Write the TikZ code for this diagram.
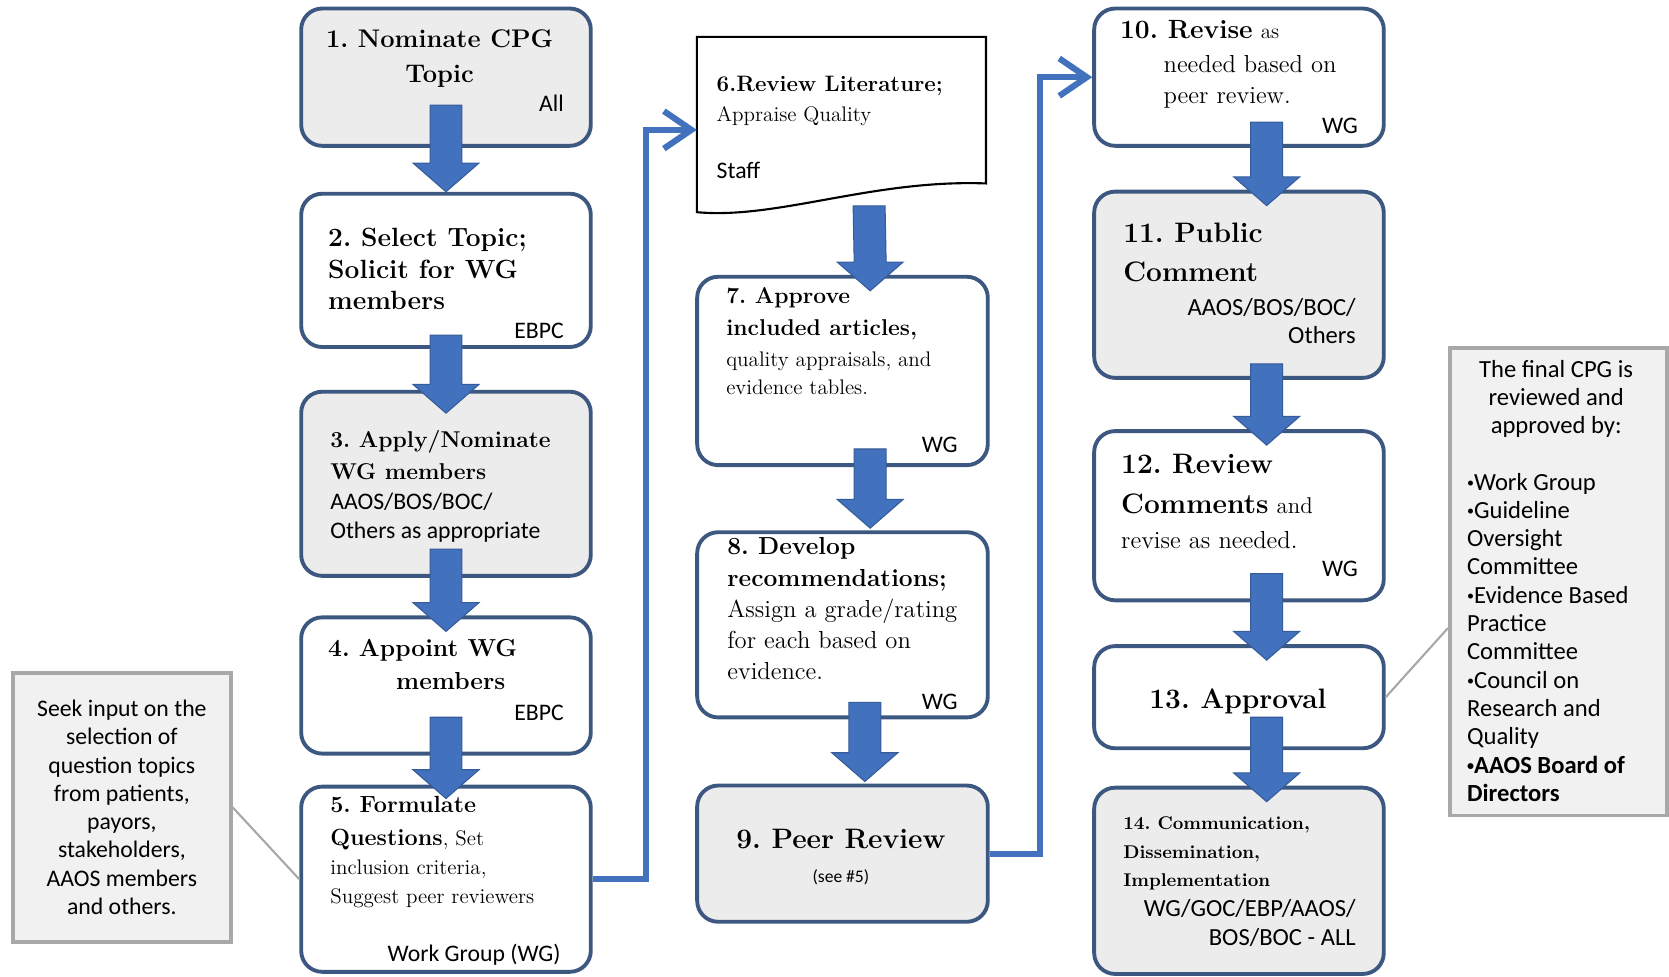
\documentclass[tikz,border=0pt]{standalone}
\usepackage{fontspec}
\setsansfont{Carlito}
\usepackage{xcolor}
\usepackage{tikz}
\usetikzlibrary{arrows.meta, calc}
\definecolor{boxline}{RGB}{60,88,128}
\definecolor{boxgray}{RGB}{236,236,236}
\definecolor{flowblue}{RGB}{66,114,190}
\definecolor{notegray}{RGB}{168,168,168}
\definecolor{notefill}{RGB}{241,241,241}
\frenchspacing
\newcommand\fsz[2]{\fontsize{#1}{#2}\selectfont}
\newcommand\dotitem{{\fsz{8}{8}\raisebox{1.6pt}{\textbullet}}}
\tikzset{
  stage/.style={rectangle, draw=boxline, fill=white, line width=2.2pt,
    rounded corners=4.2mm, minimum width=57.9mm, inner sep=0pt},
  graystage/.style={stage, fill=boxgray},
  tall/.style={minimum height=#1*0.2128mm},
  ttl/.style={anchor=north west, align=left, inner sep=0pt},
  who/.style={anchor=base east, inner sep=0pt, font=\sffamily\fsz{13.5}{16}},
  note/.style={rectangle, draw=notegray, fill=notefill, line width=2pt, inner sep=0pt},
  link/.style={draw=flowblue, line width=3.5pt, -{Straight Barb[length=5.5mm, width=7.5mm]}},
  callout/.style={draw=notegray, line width=1.2pt}
}
% fat blue step arrow: #1 start of shaft, #2 tip
\newcommand\fatarrow[2]{%
  \path #1 coordinate (fa) #2 coordinate (fb);
  \filldraw[fill=flowblue, draw=flowblue!80!black, line width=0.6pt]
    ($(fa)+(-15,0)$) -- ($(fb)+(-15,-27)$) -- ($(fb)+(-31,-27)$) -- (fb)
    -- ($(fb)+(31,-27)$) -- ($(fb)+(15,-27)$) -- ($(fa)+(15,0)$) -- cycle;}

\begin{document}
\begin{tikzpicture}[x=0.2128mm, y=-0.2128mm]
  \useasboundingbox (0,0) rectangle (1568,917);

  % Column 1 (Left)
  \node[graystage, tall=129] (b1) at (419,72.5) {};
  \node[stage, tall=144] (b2) at (419,254) {};
  \node[graystage, tall=173] (b3) at (419,454.5) {};
  \node[stage, tall=128] (b4) at (419,644) {};
  \node[stage, tall=174] (b5) at (419,826) {};

  % Column 2 (Center)
  \node[minimum width=57.67mm, minimum height=37.03mm, inner sep=0pt] (b6) at (790.5,122) {};
  \draw[black, line width=1.2pt, fill=white] ($(b6.south west)+(0,-10)$) -- (b6.north west)
    -- (b6.north east) -- ($(b6.south east)+(0,-37)$)
    .. controls ($(b6.south)+(29.5,-41)$) and ($(b6.south)+(-60.5,-3)$) .. ($(b6.south west)+(0,-10)$) -- cycle;
  \node[stage, minimum width=58.1mm, tall=177] (b7) at (791.5,348.5) {};
  \node[stage, minimum width=58.1mm, tall=174] (b8) at (791.5,587) {};
  \node[graystage, minimum width=58.1mm, tall=128] (b9) at (791.5,802) {};

  % Column 3 (Right)
  \node[stage, tall=129] (b10) at (1164,72.5) {};
  \node[graystage, tall=175] (b11) at (1164,267.5) {};
  \node[stage, tall=159] (b12) at (1164,484.5) {};
  \node[stage, tall=96] (b13) at (1164,655) {};
  \node[graystage, tall=175] (b14) at (1164,827.5) {};

  % Step arrows
  \fatarrow{($(b1.south)+(0,-40)$)}{(b2.north)}
  \fatarrow{($(b2.south)+(0,-13)$)}{($(b3.north)+(0,22)$)}
  \fatarrow{($(b3.south)+(0,-27)$)}{($(b4.north)+(0,15)$)}
  \fatarrow{($(b4.south)+(0,-36)$)}{($(b5.north)+(0,13)$)}
  \fatarrow{($(b6.south)+(26,-16)$)}{($(b7.north)+(26,15)$)}
  \fatarrow{($(b7.south)+(26,-17)$)}{($(b8.north)+(26,-2)$)}
  \fatarrow{($(b8.south)+(21,-16)$)}{($(b9.north)+(21,-2)$)}
  \fatarrow{($(b10.south)+(26,-24)$)}{($(b11.north)+(26,15)$)}
  \fatarrow{($(b11.south)+(26,-15)$)}{($(b12.north)+(26,15)$)}
  \fatarrow{($(b12.south)+(26,-27)$)}{($(b13.north)+(26,15)$)}
  \fatarrow{($(b13.south)+(26,-31)$)}{($(b14.north)+(26,15)$)}

  % Connections between columns
  \draw[link] (b5.east) -- ++(50,0) |- (b6.west);
  \draw[link] (b9.east) -- ++(47,0) |- (b10.west);

  % Side notes
  \node[note, minimum width=43.6mm, minimum height=53.8mm, align=center,
    font=\sffamily\fsz{13.5}{16.1}] (lnote) at (114.5,758.5)
    {Seek input on the\\selection of\\question topics\\from patients,\\payors,\\stakeholders,\\AAOS members\\and others.};
  \node[note, minimum width=43.4mm, minimum height=93.4mm] (rnote) at (1464,546.5) {};
  \node[ttl, anchor=north, align=center, font=\sffamily\fsz{14}{16.1}] (rhead) at (1462,338)
    {The final CPG is\\reviewed and\\approved by:};
  \node[ttl, font=\sffamily\fsz{14}{16.1}] (rlist) at (1378,444)
    {\dotitem Work Group\\\dotitem Guideline\\Oversight\\Committee\\\dotitem Evidence Based\\Practice\\Committee\\\dotitem Council on\\Research and\\Quality\\\textbf{\dotitem AAOS Board of}\\\textbf{Directors}};
  \draw[callout] (lnote.east) -- (b5.west);
  \draw[callout] (b13.east) -- ($(rnote.west)+(0,43.5)$);

  % Texts, column 1
  \node[ttl, anchor=north, align=center, font=\bfseries\fsz{14.5}{19.4}] (t1) at (413,28) {1. Nominate CPG\\Topic};
  \node[who] (w1) at (530,105) {All};
  \node[ttl, font=\bfseries\fsz{15}{18}] (t2) at (308,214) {2. Select Topic;\\Solicit for WG\\members};
  \node[who] (w2) at (530,318) {EBPC};
  \node[ttl, font=\fsz{13}{17}] (t3) at (310,404)
    {\textbf{3. Apply/Nominate}\\[1pt]\textbf{WG members}\\{\sffamily\fsz{13.5}{17}AAOS/BOS/BOC/}\\{\sffamily\fsz{13.5}{17}Others as appropriate}};
  \node[ttl, font=\bfseries\fsz{14}{19}] (t4) at (308,600) {4. Appoint WG\\\hspace*{13.6mm}members};
  \node[who] (w4) at (530,677) {EBPC};
  \node[ttl, font=\fsz{12}{16.3}] (t5) at (310,748)
    {{\bfseries\fsz{13.3}{16.3}5. Formulate}\\[2.5pt]{\bfseries\fsz{13.3}{16.3}Questions}, Set\\inclusion criteria,\\Suggest peer reviewers};
  \node[who] (w5) at (527,903) {Work Group (WG)};

  % Texts, column 2
  \node[ttl, font=\fsz{12}{17}] (t6) at (673,71) {\textbf{\fsz{12.7}{17}6.Review Literature;}\\Appraise Quality};
  \node[who, anchor=base west] (w6) at (673,168) {Staff};
  \node[ttl, font=\fsz{12}{16.3}] (t7) at (682,270)
    {\textbf{\fsz{13}{16.3}7. Approve}\\[1.9pt]\textbf{\fsz{13}{16.3}included articles,}\\[1.3pt]quality appraisals, and\\[-0.6pt]evidence tables.};
  \node[who] (w7) at (900,425) {WG};
  \node[ttl, font=\fsz{14}{17.7}] (t8) at (683,505)
    {\textbf{8. Develop}\\\textbf{recommendations;}\\Assign a grade/rating\\for each based on\\evidence.};
  \node[who] (w8) at (900,667) {WG};
  \node[ttl, anchor=north, align=center, font=\bfseries\fsz{16}{19}] (t9) at (790,779)
    {9. Peer Review\\{\sffamily\mdseries\fsz{10}{19}(see \#5)}};

  % Texts, column 3
  \node[ttl, font=\fsz{14}{19.4}] (t10) at (1052,19)
    {\textbf{\fsz{15}{19.4}10. Revise} {\fsz{12}{19.4}as}\\\hspace*{8.7mm}needed based on\\[-1.8pt]\hspace*{8.7mm}peer review.};
  \node[who] (w10) at (1276,125) {WG};
  \node[ttl, font=\bfseries\fsz{16}{22.4}] (t11) at (1055,209) {11. Public\\Comment};
  \node[who, anchor=north east, align=right, font=\sffamily\fsz{14}{15.7}] (w11) at (1274,280) {AAOS/BOS/BOC/\\Others};
  \node[ttl, font=\fsz{14}{20}] (t12) at (1053,426)
    {\textbf{\fsz{16}{20}12. Review}\\[3pt]\textbf{\fsz{16}{20}Comments} {\fsz{13}{20}and}\\revise as needed.};
  \node[who] (w12) at (1276,542) {WG};
  \node[ttl, anchor=base, font=\bfseries\fsz{16}{19}] (t13) at (1163,666) {13. Approval};
  \node[ttl, font=\bfseries\fsz{10.5}{16.3}] (t14) at (1055,767) {14. Communication,\\Dissemination,\\Implementation};
  \node[who, anchor=north east, align=right, font=\sffamily\fsz{14}{16.3}] (w14) at (1274,845) {WG/GOC/EBP/AAOS/\\BOS/BOC - ALL};
\end{tikzpicture}
\end{document}
